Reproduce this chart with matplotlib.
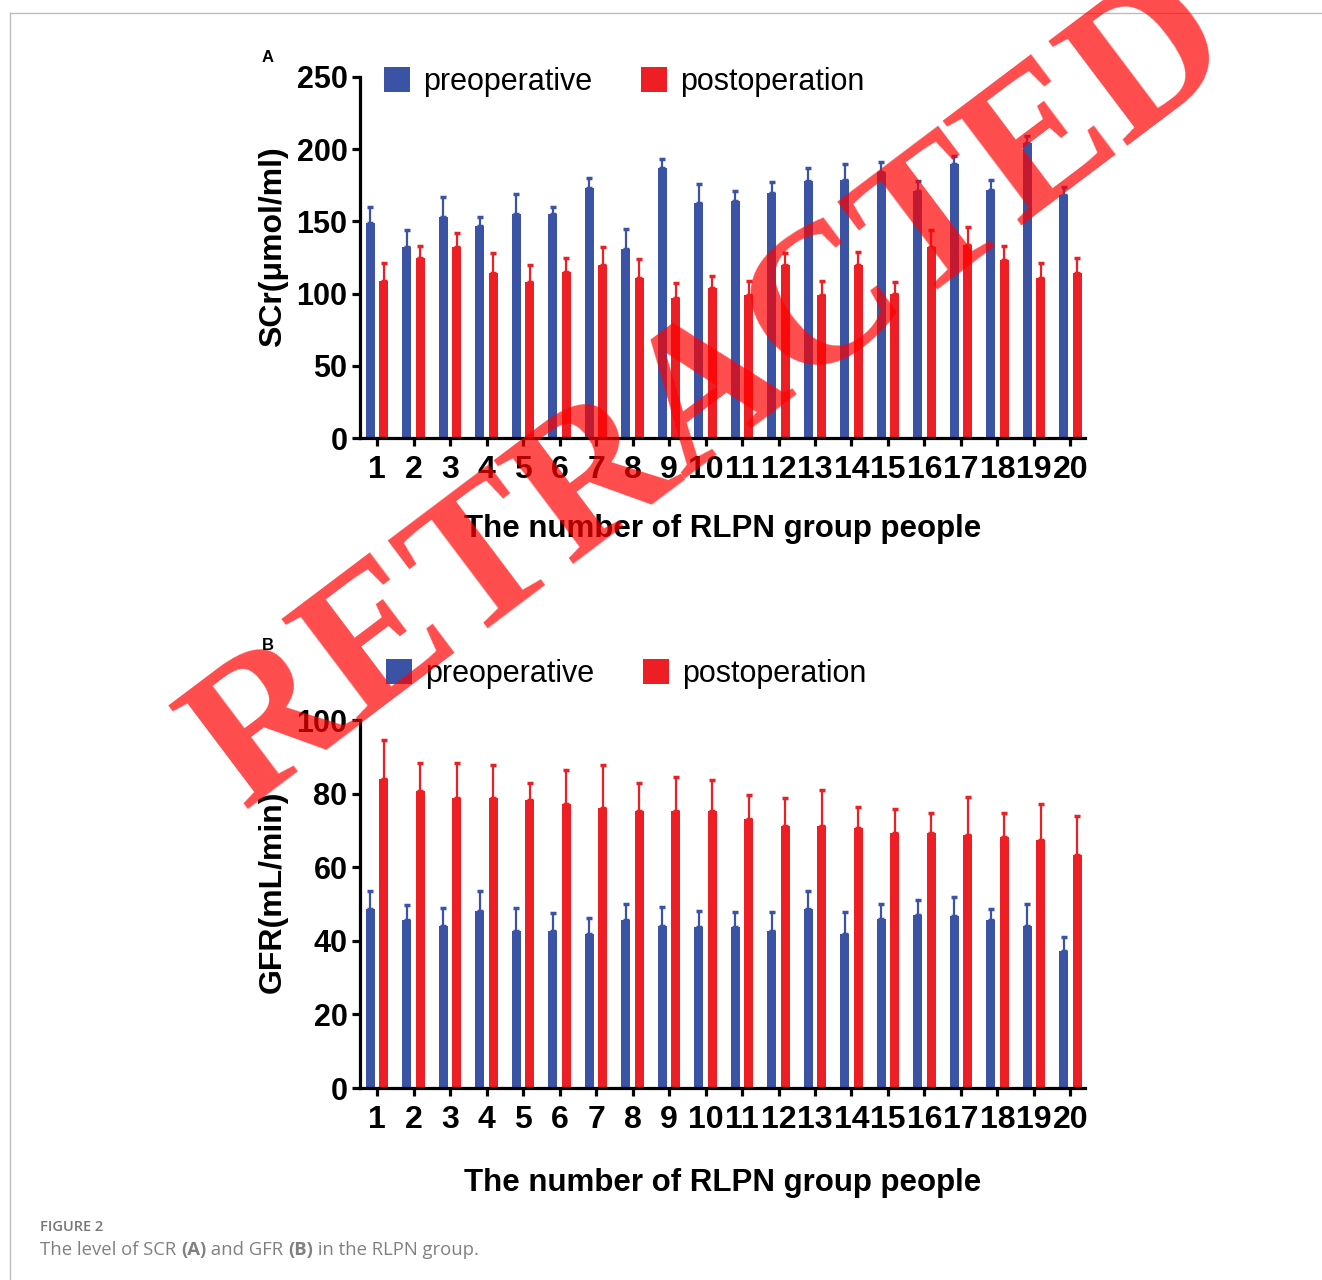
import numpy as np
import matplotlib
matplotlib.use("Agg")
import matplotlib.pyplot as plt
from matplotlib.lines import Line2D

plt.rcParams['font.family'] = ['Liberation Sans', 'DejaVu Sans']

people = list(range(1, 21))
series_names = ["preoperative", "postoperation"]

scr_pre = [149, 132, 153, 147, 155, 155, 173, 131, 187, 163, 164, 170, 178, 179, 184, 171, 190, 172, 204, 168]
scr_pre_err = [11, 12, 14, 6, 14, 5, 7, 14, 6, 13, 7, 7, 9, 11, 7, 7, 5, 7, 5, 6]
scr_post = [109, 125, 132, 114, 108, 115, 120, 111, 97, 104, 99, 120, 99, 120, 100, 132, 134, 123, 111, 114]
scr_post_err = [12, 8, 10, 14, 12, 10, 12, 13, 10, 8, 10, 8, 10, 9, 8, 12, 12, 10, 10, 11]

gfr_pre = [48.7, 45.7, 44.0, 48.1, 42.7, 42.7, 41.9, 45.7, 44.0, 43.7, 43.7, 42.7, 48.7, 41.9, 45.9, 47.0, 46.7, 45.6, 44.0, 37.2]
gfr_pre_err = [4.7, 4.0, 5.0, 5.3, 6.3, 4.8, 4.2, 4.4, 5.3, 4.3, 4.0, 5.2, 4.7, 6.0, 4.0, 4.1, 5.2, 3.1, 6.1, 3.8]
gfr_post = [84.1, 80.8, 78.8, 78.8, 78.2, 77.1, 76.2, 75.3, 75.2, 75.2, 73.1, 71.2, 71.1, 70.7, 69.3, 69.2, 68.8, 68.2, 67.4, 63.3]
gfr_post_err = [10.6, 7.6, 9.6, 9.0, 4.7, 9.3, 11.6, 7.6, 9.4, 8.4, 6.5, 7.6, 9.9, 5.6, 6.5, 5.6, 10.3, 6.4, 9.9, 10.5]

BLUE = "#3a53a4"
RED = "#ed1f24"

W, H = 1322, 1280
fig = plt.figure(figsize=(W / 100, H / 100), dpi=100)


def px(x, y):
    return x / W, 1 - y / H


def panel(rect, pre, pre_err, post, post_err, ymax, ystep, ylabel, ylab_y, xlabel, xpad,
          leg_xy, letter_xy, letter):
    ax = fig.add_axes(rect)
    x = np.array(people, dtype=float)
    bw = 0.25
    off = 0.185
    for vals, errs, col, sgn, name in [(pre, pre_err, BLUE, -1, series_names[0]),
                                       (post, post_err, RED, 1, series_names[1])]:
        ax.bar(x + sgn * off, vals, width=bw, color=col, label=name,
               yerr=[np.zeros(len(errs)), errs],
               error_kw=dict(ecolor=col, elinewidth=1.6, capsize=2, capthick=2.5))
    ax.set_xlim(0.53, 20.4)
    ax.set_ylim(0, ymax)
    ax.set_yticks(np.arange(0, ymax + 1, ystep))
    ax.set_xticks(x)
    ax.set_xticklabels([str(p) for p in people])
    for s in ["top", "right"]:
        ax.spines[s].set_visible(False)
    for s in ["left", "bottom"]:
        ax.spines[s].set_linewidth(2.3)
    ax.tick_params(width=2.3, length=6, labelsize=22, pad=3)
    ax.tick_params(axis="x", labelsize=23, pad=6)
    for lab in ax.get_xticklabels() + ax.get_yticklabels():
        lab.set_fontweight("bold")
    ax.set_ylabel(ylabel, fontsize=23, fontweight="bold")
    ax.yaxis.set_label_coords(-0.099, ylab_y)
    ax.set_xlabel(xlabel, fontsize=22.5, fontweight="bold", labelpad=xpad)
    fig.legend(*ax.get_legend_handles_labels(), loc="center", bbox_to_anchor=px(*leg_xy),
               ncol=2, frameon=False, fontsize=22, handlelength=0.85, handleheight=0.85,
               handletextpad=0.42, columnspacing=1.6)
    fig.text(*px(*letter_xy), letter, fontsize=12, fontweight="bold", ha="center", va="center")
    return ax


panel([360 / W, 1 - 438 / H, 725 / W, 361 / H], scr_pre, scr_pre_err, scr_post, scr_post_err,
      250, 50, "SCr(\u03bcmol/ml)", 0.529, "The number of RLPN group people", 21,
      (624, 82), (268, 57), "A")
panel([360 / W, 1 - 1088 / H, 725 / W, 368 / H], gfr_pre, gfr_pre_err, gfr_post, gfr_post_err,
      100, 20, "GFR(mL/min)", 0.533, "The number of RLPN group people", 24,
      (626, 674), (268, 645), "B")

# page frame
fig.add_artist(Line2D([10 / W, 1], [1 - 13 / H, 1 - 13 / H], color="#bdbdbd", lw=1))
fig.add_artist(Line2D([10 / W, 10 / W], [0, 1 - 13 / H], color="#bdbdbd", lw=1))

# caption
cap_font = ['Open Sans', 'DejaVu Sans']
fig.text(*px(40, 1227), "FIGURE 2", fontsize=10.5, color="#777777", family=cap_font,
         fontweight="semibold", va="center")
pieces = [("The level of SCR ", "normal"), ("(A)", "bold"), (" and GFR ", "normal"),
          ("(B)", "bold"), (" in the RLPN group.", "normal")]
prev = fig.text(*px(40, 1250), pieces[0][0], fontsize=13.3, color="#808080",
                family=cap_font, va="center")
for txt, wt in pieces[1:]:
    prev = plt.annotate(txt, xy=(1, 0), xycoords=prev, va="bottom", ha="left",
                        fontsize=13.3, color="#808080", family=cap_font, fontweight=wt,
                        annotation_clip=False)

# watermark
fig.text(*px(713, 396), "RETRACTED", fontsize=143, color="red", alpha=0.7,
         family=['Liberation Serif', 'DejaVu Serif'], fontweight="bold", rotation=37,
         rotation_mode="anchor", ha="center", va="center", zorder=10)

fig.savefig("out.png", dpi=100)
